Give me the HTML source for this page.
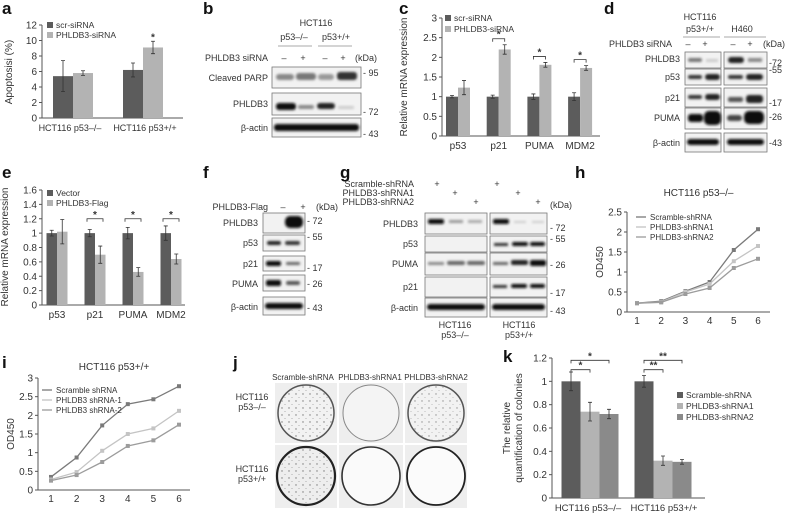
<!DOCTYPE html>
<html><head><meta charset="utf-8"><style>
html,body{margin:0;padding:0;background:#fff;}
svg{display:block;font-family:"Liberation Sans",sans-serif;fill:#333;}
.t{font-size:9px;fill:#333;}
.pl{font-size:17px;font-weight:bold;fill:#111;}
.box{fill:#f2f2f2;stroke:#777;stroke-width:0.8;}
</style></head><body>
<svg id="fig" width="788" height="513" viewBox="0 0 788 513" xmlns="http://www.w3.org/2000/svg">
<defs><filter id="bl" x="-20%" y="-50%" width="140%" height="200%"><feGaussianBlur stdDeviation="1.2"/></filter>
<pattern id="spk" width="7" height="7" patternUnits="userSpaceOnUse"><circle cx="2" cy="2" r="0.7" fill="#777"/><circle cx="5" cy="5.5" r="0.5" fill="#999"/></pattern></defs>
<text class="pl" x="2" y="14">a</text>
<text class="pl" x="203" y="14">b</text>
<text class="pl" x="399" y="14">c</text>
<text class="pl" x="604" y="14">d</text>
<text class="pl" x="2" y="178">e</text>
<text class="pl" x="203" y="178">f</text>
<text class="pl" x="340" y="178">g</text>
<text class="pl" x="575" y="178">h</text>
<text class="pl" x="2" y="368">i</text>
<text class="pl" x="233" y="368">j</text>
<text class="pl" x="503" y="362">k</text>

<g>
<text class="t" x="316" y="26" text-anchor="middle">HCT116</text>
<text class="t" x="294" y="40" text-anchor="middle">p53–/–</text>
<text class="t" x="336" y="40" text-anchor="middle">p53+/+</text>
<line x1="278" y1="46" x2="312" y2="46" stroke="#aaa"/><line x1="318" y1="46" x2="352" y2="46" stroke="#aaa"/>
<text class="t" x="268" y="61" text-anchor="end">PHLDB3 siRNA</text>
<text class="t" x="284" y="61" text-anchor="middle">–</text><text class="t" x="303" y="61" text-anchor="middle">+</text>
<text class="t" x="325" y="61" text-anchor="middle">–</text><text class="t" x="343" y="61" text-anchor="middle">+</text>
<text class="t" x="355" y="61">(kDa)</text>
<rect class="box" x="272" y="67" width="89" height="21"/>
<rect class="box" x="272" y="93" width="89" height="22"/>
<rect class="box" x="272" y="118" width="89" height="19"/>
<text class="t" x="268" y="81" text-anchor="end">Cleaved PARP</text>
<text class="t" x="268" y="107" text-anchor="end">PHLDB3</text>
<text class="t" x="268" y="131" text-anchor="end">β-actin</text>
<g filter="url(#bl)">
<rect x="276" y="74" width="18" height="6" rx="3" fill="#888"/><rect x="296" y="73" width="20" height="7" rx="3" fill="#777"/>
<rect x="318" y="74" width="16" height="6" rx="3" fill="#999"/><rect x="337" y="72" width="20" height="8" rx="3" fill="#333"/>
<rect x="276" y="103" width="20" height="7" rx="3" fill="#111"/><rect x="298" y="105" width="16" height="4" rx="2" fill="#888"/>
<rect x="317" y="103" width="18" height="6" rx="3" fill="#222"/><rect x="338" y="106" width="16" height="3" rx="1" fill="#ccc"/>
<rect x="274" y="124" width="85" height="7" rx="3" fill="#111"/>
</g>
<text class="t" x="363" y="76">- 95</text><text class="t" x="363" y="115">- 72</text><text class="t" x="363" y="137">- 43</text>
</g>

<g>
<text class="t" x="700" y="20" text-anchor="middle">HCT116</text>
<text class="t" x="700" y="32" text-anchor="middle">p53+/+</text>
<text class="t" x="742" y="32" text-anchor="middle">H460</text>
<line x1="683" y1="37" x2="720" y2="37" stroke="#aaa"/><line x1="724" y1="37" x2="766" y2="37" stroke="#aaa"/>
<text class="t" x="672" y="47" text-anchor="end">PHLDB3 siRNA</text>
<text class="t" x="688" y="47" text-anchor="middle">–</text><text class="t" x="705" y="47" text-anchor="middle">+</text>
<text class="t" x="733" y="47" text-anchor="middle">–</text><text class="t" x="750" y="47" text-anchor="middle">+</text>
<text class="t" x="763" y="47">(kDa)</text>
<rect class="box" x="685" y="52" width="36" height="16"/><rect class="box" x="724" y="52" width="43" height="16"/>
<rect class="box" x="685" y="69" width="36" height="16"/><rect class="box" x="724" y="69" width="43" height="16"/>
<rect class="box" x="685" y="88" width="36" height="19"/><rect class="box" x="724" y="88" width="43" height="19"/>
<rect class="box" x="685" y="108" width="36" height="21"/><rect class="box" x="724" y="108" width="43" height="21"/>
<rect class="box" x="685" y="133" width="36" height="19"/><rect class="box" x="724" y="133" width="43" height="19"/>
<text class="t" x="680" y="62" text-anchor="end">PHLDB3</text>
<text class="t" x="680" y="80" text-anchor="end">p53</text>
<text class="t" x="680" y="101" text-anchor="end">p21</text>
<text class="t" x="680" y="121" text-anchor="end">PUMA</text>
<text class="t" x="680" y="146" text-anchor="end">β-actin</text>
<g filter="url(#bl)">
<rect x="688" y="58" width="14" height="4" rx="2" fill="#777"/><rect x="706" y="59" width="12" height="3" fill="#ccc"/>
<rect x="728" y="57" width="16" height="6" rx="3" fill="#222"/><rect x="748" y="58" width="14" height="4" fill="#888"/>
<rect x="688" y="75" width="14" height="4" rx="2" fill="#333"/><rect x="705" y="74" width="15" height="6" rx="3" fill="#222"/>
<rect x="728" y="75" width="15" height="4" rx="2" fill="#333"/><rect x="746" y="74" width="17" height="6" rx="3" fill="#222"/>
<rect x="688" y="95" width="14" height="4" rx="2" fill="#333"/><rect x="705" y="94" width="15" height="6" rx="3" fill="#222"/>
<rect x="728" y="97" width="15" height="5" rx="2" fill="#555"/><rect x="746" y="95" width="17" height="8" rx="3" fill="#222"/>
<rect x="688" y="114" width="15" height="8" rx="3" fill="#111"/><rect x="704" y="111" width="17" height="14" rx="5" fill="#0a0a0a"/>
<rect x="727" y="115" width="15" height="6" rx="3" fill="#444"/><rect x="744" y="111" width="20" height="13" rx="5" fill="#111"/>
<rect x="687" y="139" width="32" height="6" rx="3" fill="#111"/><rect x="727" y="139" width="37" height="6" rx="3" fill="#111"/>
</g>
<text class="t" x="769" y="66">-72</text><text class="t" x="769" y="73">-55</text>
<text class="t" x="769" y="106">-17</text><text class="t" x="769" y="120">-26</text><text class="t" x="769" y="146">-43</text>
</g>

<g>
<text class="t" x="268" y="210" text-anchor="end">PHLDB3-Flag</text>
<text class="t" x="283" y="210" text-anchor="middle">–</text><text class="t" x="303" y="210" text-anchor="middle">+</text>
<text class="t" x="316" y="210">(kDa)</text>
<rect class="box" x="263" y="213" width="42" height="20"/>
<rect class="box" x="263" y="235" width="42" height="16"/>
<rect class="box" x="263" y="256" width="42" height="15"/>
<rect class="box" x="263" y="275" width="42" height="16"/>
<rect class="box" x="263" y="297" width="42" height="18"/>
<text class="t" x="258" y="226" text-anchor="end">PHLDB3</text>
<text class="t" x="258" y="246" text-anchor="end">p53</text>
<text class="t" x="258" y="267" text-anchor="end">p21</text>
<text class="t" x="258" y="287" text-anchor="end">PUMA</text>
<text class="t" x="258" y="310" text-anchor="end">β-actin</text>
<g filter="url(#bl)">
<rect x="285" y="216" width="18" height="12" rx="5" fill="#111"/>
<rect x="267" y="241" width="14" height="4" rx="2" fill="#222"/><rect x="285" y="241" width="15" height="4" rx="2" fill="#333"/>
<rect x="266" y="261" width="15" height="5" rx="2" fill="#111"/><rect x="286" y="262" width="14" height="3" rx="1" fill="#666"/>
<rect x="266" y="280" width="15" height="6" rx="2" fill="#111"/><rect x="286" y="281" width="14" height="4" rx="2" fill="#555"/>
<rect x="265" y="303" width="38" height="6" rx="3" fill="#111"/>
</g>
<text class="t" x="307" y="224">- 72</text><text class="t" x="307" y="240">- 55</text>
<text class="t" x="307" y="271">- 17</text><text class="t" x="307" y="287">- 26</text><text class="t" x="307" y="311">- 43</text>
</g>

<g>
<text class="t" x="414" y="187" text-anchor="end">Scramble-shRNA</text>
<text class="t" x="414" y="196" text-anchor="end">PHLDB3-shRNA1</text>
<text class="t" x="414" y="205" text-anchor="end">PHLDB3-shRNA2</text>
<text class="t" x="437" y="187" text-anchor="middle">+</text><text class="t" x="455" y="196" text-anchor="middle">+</text><text class="t" x="476" y="205" text-anchor="middle">+</text>
<text class="t" x="497" y="187" text-anchor="middle">+</text><text class="t" x="518" y="196" text-anchor="middle">+</text><text class="t" x="538" y="205" text-anchor="middle">+</text>
<text class="t" x="550" y="208">(kDa)</text>
<rect class="box" x="425" y="213" width="62" height="21"/><rect class="box" x="490" y="213" width="57" height="21"/>
<rect class="box" x="425" y="236" width="62" height="16"/><rect class="box" x="490" y="236" width="57" height="16"/>
<rect class="box" x="425" y="253" width="62" height="22"/><rect class="box" x="490" y="253" width="57" height="22"/>
<rect class="box" x="425" y="277" width="62" height="20"/><rect class="box" x="490" y="277" width="57" height="20"/>
<rect class="box" x="425" y="298" width="62" height="19"/><rect class="box" x="490" y="298" width="57" height="19"/>
<text class="t" x="418" y="227" text-anchor="end">PHLDB3</text>
<text class="t" x="418" y="247" text-anchor="end">p53</text>
<text class="t" x="418" y="267" text-anchor="end">PUMA</text>
<text class="t" x="418" y="290" text-anchor="end">p21</text>
<text class="t" x="418" y="311" text-anchor="end">β-actin</text>
<g filter="url(#bl)">
<rect x="428" y="219" width="16" height="5" rx="2" fill="#111"/><rect x="449" y="220" width="14" height="3" fill="#999"/><rect x="468" y="220" width="14" height="3" fill="#aaa"/>
<rect x="493" y="219" width="16" height="5" rx="2" fill="#111"/><rect x="514" y="221" width="12" height="2" fill="#ccc"/><rect x="532" y="221" width="12" height="2" fill="#ccc"/>
<rect x="494" y="243" width="14" height="3" fill="#333"/><rect x="512" y="242" width="16" height="4" rx="2" fill="#111"/><rect x="530" y="242" width="15" height="4" rx="2" fill="#111"/>
<rect x="428" y="262" width="16" height="3" fill="#888"/><rect x="447" y="261" width="18" height="4" rx="2" fill="#666"/><rect x="467" y="261" width="18" height="4" rx="2" fill="#666"/>
<rect x="493" y="262" width="15" height="3" fill="#666"/><rect x="511" y="260" width="17" height="5" rx="2" fill="#222"/><rect x="530" y="260" width="16" height="6" rx="2" fill="#111"/>
<rect x="493" y="285" width="14" height="3" fill="#333"/><rect x="511" y="284" width="16" height="4" rx="2" fill="#111"/><rect x="530" y="284" width="15" height="4" rx="2" fill="#111"/>
<rect x="427" y="304" width="58" height="6" rx="3" fill="#111"/><rect x="492" y="304" width="53" height="6" rx="3" fill="#111"/>
</g>
<text class="t" x="550" y="231">- 72</text><text class="t" x="550" y="242">- 55</text>
<text class="t" x="550" y="268">- 26</text><text class="t" x="550" y="296">- 17</text><text class="t" x="550" y="314">- 43</text>
<text class="t" x="455" y="328" text-anchor="middle">HCT116</text><text class="t" x="455" y="338" text-anchor="middle">p53–/–</text>
<text class="t" x="519" y="328" text-anchor="middle">HCT116</text><text class="t" x="519" y="338" text-anchor="middle">p53+/+</text>
</g>

<g>
<text class="t" x="303" y="380" text-anchor="middle" style="font-size:8px">Scramble-shRNA</text>
<text class="t" x="370" y="380" text-anchor="middle" style="font-size:8px">PHLDB3-shRNA1</text>
<text class="t" x="436" y="380" text-anchor="middle" style="font-size:8px">PHLDB3-shRNA2</text>
<text class="t" x="252" y="400" text-anchor="middle">HCT116</text><text class="t" x="252" y="410" text-anchor="middle">p53–/–</text>
<text class="t" x="252" y="472" text-anchor="middle">HCT116</text><text class="t" x="252" y="482" text-anchor="middle">p53+/+</text>
<rect x="275" y="383" width="62" height="60" fill="#eee"/><rect x="339" y="383" width="64" height="60" fill="#eee"/><rect x="405" y="383" width="62" height="60" fill="#eee"/>
<rect x="275" y="445" width="62" height="63" fill="#eee"/><rect x="339" y="445" width="64" height="63" fill="#eee"/><rect x="405" y="445" width="62" height="63" fill="#eee"/>
<circle cx="306" cy="413" r="28" fill="#f2f2f2" stroke="#555" stroke-width="1.5"/>
<circle cx="306" cy="413" r="27" fill="url(#spk)"/>
<circle cx="371" cy="413" r="28" fill="#f4f4f4" stroke="#888" stroke-width="1"/>
<circle cx="436" cy="413" r="28" fill="#f2f2f2" stroke="#555" stroke-width="1.5"/>
<circle cx="436" cy="413" r="27" fill="url(#spk)" opacity="0.8"/>
<circle cx="306" cy="476" r="29" fill="#eeeeee" stroke="#222" stroke-width="2.2"/>
<circle cx="306" cy="476" r="27" fill="url(#spk)"/>
<circle cx="371" cy="476" r="29" fill="#fafafa" stroke="#333" stroke-width="1.6"/>
<circle cx="436" cy="476" r="29" fill="#fbfbfb" stroke="#222" stroke-width="1.8"/>
</g>
</svg>
<script>
// ---------- data ----------
const aCats = ['HCT116 p53–/–', 'HCT116 p53+/+'];
const aScr = [5.4, 6.2];
const aScrErr = [2.0, 0.9];
const aPh = [5.8, 9.1];
const aPhErr = [0.3, 0.8];
const aTicks = [0, 2, 4, 6, 8, 10, 12];

const cCats = ['p53', 'p21', 'PUMA', 'MDM2'];
const cScr = [1, 1, 1, 1];
const cScrErr = [0.03, 0.04, 0.07, 0.1];
const cPh = [1.23, 2.2, 1.81, 1.73];
const cPhErr = [0.18, 0.12, 0.06, 0.06];
const cTicks = [0, 0.5, 1, 1.5, 2, 2.5, 3];

const eCats = ['p53', 'p21', 'PUMA', 'MDM2'];
const eVec = [1, 1, 1, 1];
const eVecErr = [0.04, 0.05, 0.08, 0.1];
const eFlag = [1.02, 0.7, 0.46, 0.64];
const eFlagErr = [0.17, 0.12, 0.06, 0.07];
const eTicks = [0, 0.2, 0.4, 0.6, 0.8, 1, 1.2, 1.4, 1.6];

const hDays = [1, 2, 3, 4, 5, 6];
const hScr = [0.22, 0.27, 0.52, 0.75, 1.55, 2.07];
const hSh1 = [0.22, 0.25, 0.5, 0.7, 1.27, 1.65];
const hSh2 = [0.22, 0.24, 0.45, 0.6, 1.1, 1.33];
const hTicks = [0, 0.5, 1, 1.5, 2, 2.5];

const iDays = [1, 2, 3, 4, 5, 6];
const iScr = [0.35, 0.87, 1.73, 2.3, 2.43, 2.78];
const iSh1 = [0.28, 0.48, 1.05, 1.5, 1.65, 2.12];
const iSh2 = [0.25, 0.4, 0.75, 1.18, 1.33, 1.75];
const iTicks = [0, 0.5, 1, 1.5, 2, 2.5, 3];

const kCats = ['HCT116 p53–/–', 'HCT116 p53+/+'];
const kScr = [1, 1];
const kScrErr = [0.08, 0.05];
const kSh1 = [0.74, 0.32];
const kSh1Err = [0.08, 0.04];
const kSh2 = [0.72, 0.31];
const kSh2Err = [0.04, 0.02];
const kTicks = [0, 0.2, 0.4, 0.6, 0.8, 1, 1.2];

// ---------- helpers ----------
const NS = 'http://www.w3.org/2000/svg';
const svg = document.getElementById('fig');
function mk(tag, attrs, parent) {
  const el = document.createElementNS(NS, tag);
  for (const k in attrs) el.setAttribute(k, attrs[k]);
  (parent || svg).appendChild(el);
  return el;
}
function txt(s, x, y, anchor, name, parent, extra) {
  const el = mk('text', Object.assign({x: x, y: y, 'text-anchor': anchor || 'start', class: 't'}, extra || {}), parent);
  el.textContent = s;
  
  
  return el;
}
function lin(d0, d1, r0, r1) { return v => r0 + (v - d0) * (r1 - r0) / (d1 - d0); }
function group(name) {
  const g = mk('g', {});
  
  
  return g;
}
function yAxis(g, ys, ticks, x, x1, prefix) {
  const ax = mk('line', {x1: x, y1: ys(ticks[0]), x2: x, y2: ys(ticks[ticks.length - 1]), stroke: '#555', 'stroke-width': 1}, g);
  
  
  const bx = mk('line', {x1: x, y1: ys(ticks[0]), x2: x1, y2: ys(ticks[0]), stroke: '#555', 'stroke-width': 1}, g);
  
  
  ticks.forEach(t => {
    const tk = mk('line', {x1: x - 3, y1: ys(t), x2: x, y2: ys(t), stroke: '#555'}, g);
    
    
    txt(String(t), x - 5, ys(t) + 3.5, 'end', prefix + '-y-tick-label', g, {style: 'font-size:10px'});
  });
}
function rotLabel(g, s, x, y, name) {
  return txt(s, x, y, 'middle', name, g, {transform: 'rotate(-90 ' + x + ' ' + y + ')', style: 'font-size:10px'});
}
function bar(g, cx, w, v, err, ys, color, name) {
  const r = mk('rect', {x: cx, y: ys(v), width: w, height: ys(0) - ys(v), fill: color}, g);
  
  
  const m = cx + w / 2;
  const e = mk('path', {d: 'M' + m + ' ' + ys(v - err) + 'V' + ys(v + err) + 'M' + (m - 2) + ' ' + ys(v + err) + 'h4M' + (m - 2) + ' ' + ys(v - err) + 'h4', stroke: '#333', 'stroke-width': 0.8, fill: 'none'}, g);
  
  
}
function legendSq(g, x, y, color, s, name) {
  const r = mk('rect', {x: x, y: y - 6, width: 6, height: 6, fill: color}, g);
  
  
  txt(s, x + 9, y, 'start', name, g, {style: 'font-size:8.5px'});
}
function bracket(g, x1, x2, y, star, name) {
  const p = mk('path', {d: 'M' + x1 + ' ' + (y + 3) + 'V' + y + 'H' + x2 + 'V' + (y + 3), stroke: '#333', fill: 'none', 'stroke-width': 0.8}, g);
  
  
  txt(star, (x1 + x2) / 2, y - 1, 'middle', name + '-star', g, {style: 'font-size:10px;font-weight:bold'});
}
const DARK = '#5c5c5c', LIGHT = '#b3b3b3', MID = '#8a8a8a';

// ---------- panel a ----------
(function () {
  const g = group('panel-a-apoptosis-chart');
  const ys = lin(0, 12, 118, 25);
  yAxis(g, ys, aTicks, 42, 183, 'a');
  const gx = i => 73 + i * 70;
  aCats.forEach((c, i) => {
    bar(g, gx(i) - 20, 20, aScr[i], aScrErr[i], ys, DARK, 'a-bar-scr-' + i);
    bar(g, gx(i), 20, aPh[i], aPhErr[i], ys, LIGHT, 'a-bar-phldb3-' + i);
    txt(c, gx(i) - 3 + i * 5, 131, 'middle', 'a-category-label', g, {style: 'font-size:9px'});
  });
  txt('*', gx(1) + 10, ys(aPh[1] + aPhErr[1]) - 1, 'middle', 'a-significance', g, {style: 'font-size:10px;font-weight:bold'});
  legendSq(g, 47, 28, DARK, 'scr-siRNA', 'a-legend-scr');
  legendSq(g, 47, 38, LIGHT, 'PHLDB3-siRNA', 'a-legend-phldb3');
  rotLabel(g, 'Apoptosisi (%)', 12, 72, 'a-y-axis-title');
})();

// ---------- panel c ----------
(function () {
  const g = group('panel-c-mrna-chart');
  const ys = lin(0, 3, 136, 18);
  yAxis(g, ys, cTicks, 442, 600, 'c');
  const gx = i => 458 + i * 40.7;
  cCats.forEach((c, i) => {
    bar(g, gx(i) - 12, 12, cScr[i], cScrErr[i], ys, DARK, 'c-bar-scr-' + c);
    bar(g, gx(i), 12, cPh[i], cPhErr[i], ys, LIGHT, 'c-bar-phldb3-' + c);
    txt(c, gx(i), 149, 'middle', 'c-category-label', g, {style: 'font-size:10px'});
    if (i > 0) bracket(g, gx(i) - 6, gx(i) + 6, ys(cPh[i] + cPhErr[i]) - 6, '*', 'c-significance-' + c);
  });
  legendSq(g, 445, 21, DARK, 'scr-siRNA', 'c-legend-scr');
  legendSq(g, 445, 32, LIGHT, 'PHLDB3-siRNA', 'c-legend-phldb3');
  rotLabel(g, 'Relative mRNA expression', 407, 77, 'c-y-axis-title');
})();

// ---------- panel e ----------
(function () {
  const g = group('panel-e-mrna-chart');
  const ys = lin(0, 1.6, 305, 190);
  yAxis(g, ys, eTicks, 42, 185, 'e');
  const gx = i => 57 + i * 38;
  eCats.forEach((c, i) => {
    bar(g, gx(i) - 10.5, 10.5, eVec[i], eVecErr[i], ys, DARK, 'e-bar-vector-' + c);
    bar(g, gx(i), 10.5, eFlag[i], eFlagErr[i], ys, LIGHT, 'e-bar-flag-' + c);
    txt(c, gx(i), 318, 'middle', 'e-category-label', g, {style: 'font-size:10px'});
    if (i > 0) bracket(g, gx(i) - 8, gx(i) + 8, ys(1.2), '*', 'e-significance-' + c);
  });
  legendSq(g, 47, 196, DARK, 'Vector', 'e-legend-vector');
  legendSq(g, 47, 206, LIGHT, 'PHLDB3-Flag', 'e-legend-flag');
  rotLabel(g, 'Relative mRNA expression', 8, 247, 'e-y-axis-title');
})();

// ---------- line charts ----------
function lineChart(name, prefix, days, series, ticks, ymax, box, title, legendX, legendY) {
  const g = group(name);
  const ys = lin(0, ymax, box.y0, box.y1);
  const xs = lin(1, 6, box.xa, box.xb);
  yAxis(g, ys, ticks, box.ax, box.axEnd, prefix);
  days.forEach(d => {
    txt(String(d), xs(d), box.y0 + 12, 'middle', prefix + '-x-tick-label', g, {style: 'font-size:10px'});
  });
  txt(title, (box.ax + box.axEnd) / 2, box.titleY, 'middle', prefix + '-chart-title', g, {style: 'font-size:10px'});
  series.forEach((s, si) => {
    const d = s.vals.map((v, i) => (i ? 'L' : 'M') + xs(days[i]) + ' ' + ys(v)).join('');
    const p = mk('path', {d: d, stroke: s.color, 'stroke-width': 1.3, fill: 'none'}, g);
    
    
    s.vals.forEach((v, i) => {
      const m = mk('rect', {x: xs(days[i]) - 2, y: ys(v) - 2, width: 4, height: 4, fill: s.color}, g);
      
      
    });
    const ly = legendY + si * 10;
    const ll = mk('line', {x1: legendX, y1: ly - 3, x2: legendX + 10, y2: ly - 3, stroke: s.color, 'stroke-width': 1.3}, g);
    
    
    txt(s.label, legendX + 14, ly, 'start', prefix + '-legend-' + s.key, g, {style: 'font-size:8px'});
  });
  rotLabel(g, 'OD450', box.ax - 24, (box.y0 + box.y1) / 2, prefix + '-y-axis-title');
}
lineChart('panel-h-growth-chart', 'h', hDays, [
  {key: 'scramble', vals: hScr, color: '#7a7a7a', label: 'Scramble-shRNA'},
  {key: 'shrna1', vals: hSh1, color: '#c4c4c4', label: 'PHLDB3-shRNA1'},
  {key: 'shrna2', vals: hSh2, color: '#9c9c9c', label: 'PHLDB3-shRNA2'}
], hTicks, 2.5, {y0: 312, y1: 212, xa: 637, xb: 758, ax: 627, axEnd: 770, titleY: 196}, 'HCT116 p53–/–', 636, 220);
lineChart('panel-i-growth-chart', 'i', iDays, [
  {key: 'scramble', vals: iScr, color: '#7a7a7a', label: 'Scramble shRNA'},
  {key: 'shrna1', vals: iSh1, color: '#c4c4c4', label: 'PHLDB3 shRNA-1'},
  {key: 'shrna2', vals: iSh2, color: '#9c9c9c', label: 'PHLDB3 shRNA-2'}
], iTicks, 3, {y0: 490, y1: 378, xa: 51, xb: 179, ax: 38, axEnd: 190, titleY: 370}, 'HCT116 p53+/+', 42, 393);

// ---------- panel k ----------
(function () {
  const g = group('panel-k-colony-chart');
  const ys = lin(0, 1.2, 498, 358);
  yAxis(g, ys, kTicks, 552, 705, 'k');
  const gx = i => 590 + i * 73;
  const W = 19;
  kCats.forEach((c, i) => {
    bar(g, gx(i) - 1.5 * W, W, kScr[i], kScrErr[i], ys, DARK, 'k-bar-scramble-' + i);
    bar(g, gx(i) - 0.5 * W, W, kSh1[i], kSh1Err[i], ys, LIGHT, 'k-bar-shrna1-' + i);
    bar(g, gx(i) + 0.5 * W, W, kSh2[i], kSh2Err[i], ys, MID, 'k-bar-shrna2-' + i);
    txt(c, gx(i) - 2 + i * 3, 511, 'middle', 'k-category-label', g, {style: 'font-size:9.5px'});
    const st = i === 0 ? '*' : '**';
    bracket(g, gx(i) - W, gx(i), ys(1.1), st, 'k-significance-sh1-' + i);
    bracket(g, gx(i) - W, gx(i) + W, ys(1.18), st, 'k-significance-sh2-' + i);
  });
  legendSq(g, 677, 398, DARK, 'Scramble-shRNA', 'k-legend-scramble');
  legendSq(g, 677, 409, LIGHT, 'PHLDB3-shRNA1', 'k-legend-shrna1');
  legendSq(g, 677, 420, MID, 'PHLDB3-shRNA2', 'k-legend-shrna2');
  rotLabel(g, 'The relative', 510, 428, 'k-y-axis-title-line1');
  rotLabel(g, 'quantification of colonies', 522, 428, 'k-y-axis-title-line2');
})();
</script>
</body></html>
